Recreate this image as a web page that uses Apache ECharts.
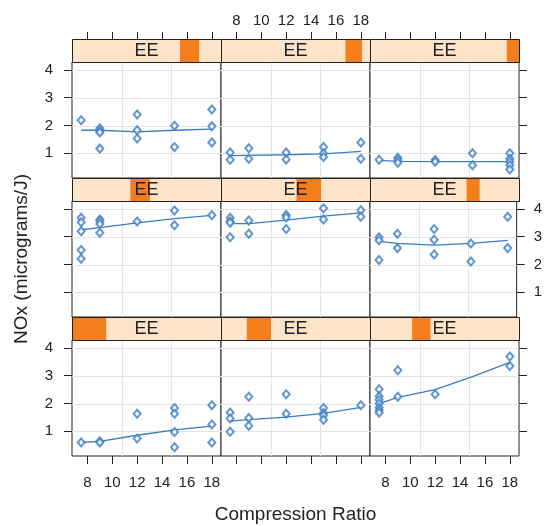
<!DOCTYPE html>
<html>
<head>
<meta charset="utf-8">
<script src="https://cdn.jsdelivr.net/npm/echarts@6/dist/echarts.min.js"></script>
<style>
  html, body { margin: 0; background: #fff; }
  #chart { width: 545px; height: 526px; }
</style>
</head>
<body>
<div id="chart"></div>
<script>
// axis ranges and ticks
const cRange = [6.765, 18.735];
const noxRange = [0.114, 4.284];
const eRange = [0.535, 1.232];
const cTicks = [8, 10, 12, 14, 16, 18];
const noxTicks = [1, 2, 3, 4];
const vGrid = [10.755, 14.745];
const stripLabel = 'EE';

// shingle intervals of E, panel 1 = bottom left (lattice order)
const shingles = [
  [0.535, 0.695], [0.656, 0.769], [0.732, 0.818],
  [0.808, 0.900], [0.888, 1.003], [0.987, 1.048],
  [1.040, 1.130], [1.117, 1.194], [1.175, 1.232]
];

// points [C, NOx] per panel
const pts1 = [[7.5,0.60],[9,0.64],[9,0.60],[12,1.63],[12,0.74],[15,1.84],[15,1.63],[15,0.98],[15,0.43],[18,1.94],[18,1.25],[18,0.60]];
const pts2 = [[7.5,1.68],[7.5,1.46],[7.5,0.99],[9,2.24],[9,1.48],[9,1.20],[12,2.33],[12,1.63],[15,1.84],[15,1.66],[15,1.57],[15,1.42],[18,1.94]];
const pts3 = [[7.5,2.51],[7.5,2.26],[7.5,2.14],[7.5,2.00],[7.5,1.86],[7.5,1.76],[7.5,1.67],[9,3.20],[9,2.24],[12,2.33],[18,3.69],[18,3.35]];
const pts4 = [[7.5,3.68],[7.5,3.52],[7.5,3.20],[7.5,2.52],[7.5,2.21],[9,3.62],[9,3.56],[9,3.46],[9,3.14],[12,3.55],[15,3.94],[15,3.41],[18,3.77]];
const pts5 = [[7.5,3.68],[7.5,3.55],[7.5,3.50],[7.5,2.98],[9,3.58],[9,3.11],[12,3.78],[12,3.69],[12,3.28],[15,4.02],[15,3.62],[18,3.95],[18,3.72]];
const pts6 = [[7.5,2.98],[7.5,2.87],[7.5,2.16],[9,3.11],[9,2.59],[12,3.28],[12,2.89],[12,2.36],[15,2.76],[15,2.11],[18,3.72],[18,2.59]];
const pts7 = [[7.5,2.19],[9,1.90],[9,1.80],[9,1.75],[9,1.17],[12,2.40],[12,1.83],[12,1.53],[15,1.99],[15,1.23],[18,2.58],[18,1.97],[18,1.39]];
const pts8 = [[7.5,1.03],[7.5,0.77],[9,1.18],[9,0.81],[12,1.03],[12,0.78],[15,1.23],[15,1.00],[15,0.87],[18,1.39],[18,0.81]];
const pts9 = [[7.5,0.77],[9,0.84],[9,0.76],[9,0.66],[12,0.76],[12,0.70],[15,1.00],[15,0.57],[18,1.00],[18,0.81],[18,0.70],[18,0.57],[18,0.42]];

// smooth curves
const fit1 = [[7.5,0.60],[9,0.64],[12,0.86],[15,1.05],[18,1.19]];
const fit2 = [[7.5,1.37],[9,1.42],[12,1.51],[15,1.65],[18,1.86]];
const fit3 = [[7.5,2.00],[9,2.22],[12,2.50],[15,2.97],[18,3.48]];
const fit4 = [[7.5,3.25],[9,3.33],[12,3.50],[15,3.65],[18,3.77]];
const fit5 = [[7.5,3.47],[9,3.47],[12,3.60],[15,3.74],[18,3.86]];
const fit6 = [[7.5,2.83],[9,2.76],[12,2.70],[15,2.76],[18,2.87]];
const fit7 = [[7.5,1.83],[9,1.83],[12,1.77],[15,1.83],[18,1.87]];
const fit8 = [[7.5,0.92],[9,0.93],[12,0.95],[15,0.98],[18,1.07]];
const fit9 = [[7.5,0.75],[9,0.71],[12,0.70],[15,0.70],[18,0.70]];

const points = [pts1, pts2, pts3, pts4, pts5, pts6, pts7, pts8, pts9];
const fits = [fit1, fit2, fit3, fit4, fit5, fit6, fit7, fit8, fit9];

// layout
const colLeft = [72, 221, 370];
const colW = 149;
const stripTop = [39, 178, 317];
const stripH = 23;
const plotH = 116;
const font = "'Liberation Sans', Arial, sans-serif";
const ink = '#222';
const blue = '#3a7cc4';

const grids = [], xAxes = [], yAxes = [], series = [];

const tickStyle = (len, values) => ({
  show: true, inside: false, length: len, customValues: values,
  lineStyle: { color: ink, width: 1 }
});
const labelStyle = (show, margin, values) => ({
  show, margin, customValues: values, fontSize: 15, color: ink, fontFamily: font
});

// grid line items: [0, v] vertical at C = v, [1, v] horizontal at NOx = v
const gridItems = vGrid.map(v => [0, v]).concat(noxTicks.map(v => [1, v]));

points.forEach((pts, i) => {
  const r = 2 - Math.floor(i / 3);
  const c = i % 3;
  grids.push({
    left: colLeft[c], top: stripTop[r] + stripH, width: colW, height: plotH,
    show: true, borderColor: ink, borderWidth: 1, backgroundColor: '#fff'
  });
  // bottom x axis
  xAxes.push({
    type: 'value', gridIndex: i, position: 'bottom', min: cRange[0], max: cRange[1],
    show: r === 2,
    axisLine: { show: false },
    axisTick: tickStyle(8, cTicks),
    axisLabel: labelStyle(c !== 1, 19, cTicks),
    splitLine: { show: false },
    name: r === 2 && c === 1 ? 'Compression Ratio' : '',
    nameLocation: 'middle', nameGap: 49,
    nameTextStyle: { fontSize: 19, color: ink, fontFamily: font }
  });
  // top x axis, drawn above the strip
  xAxes.push({
    type: 'value', gridIndex: i, position: 'top', offset: stripH, min: cRange[0], max: cRange[1],
    show: r === 0,
    axisLine: { show: false },
    axisTick: tickStyle(7, cTicks),
    axisLabel: labelStyle(c === 1, 11, cTicks),
    splitLine: { show: false }
  });
  // left y axis
  yAxes.push({
    type: 'value', gridIndex: i, position: 'left', min: noxRange[0], max: noxRange[1],
    show: c === 0,
    axisLine: { show: false },
    axisTick: tickStyle(8, noxTicks),
    axisLabel: labelStyle(r !== 1, 19, noxTicks),
    splitLine: { show: false },
    name: r === 1 && c === 0 ? 'NOx (micrograms/J)' : '',
    nameLocation: 'middle', nameGap: 41,
    nameTextStyle: { fontSize: 19, color: ink, fontFamily: font }
  });
  // right y axis
  yAxes.push({
    type: 'value', gridIndex: i, position: 'right', min: noxRange[0], max: noxRange[1],
    show: c === 2,
    axisLine: { show: false },
    axisTick: tickStyle(8, noxTicks),
    axisLabel: labelStyle(r === 1, 17, noxTicks),
    splitLine: { show: false }
  });

  // light reference lines behind the data
  series.push({
    type: 'custom', xAxisIndex: 2 * i, yAxisIndex: 2 * i, data: gridItems, z: 0, silent: true,
    renderItem(params, api) {
      const cs = params.coordSys;
      const v = api.value(1);
      let shape;
      if (api.value(0) === 0) {
        const x = Math.round(api.coord([v, noxRange[0]])[0]) + 0.5;
        shape = { x1: x, y1: cs.y, x2: x, y2: cs.y + cs.height };
      } else {
        const y = Math.round(api.coord([cRange[0], v])[1]) + 0.5;
        shape = { x1: cs.x, y1: y, x2: cs.x + cs.width, y2: y };
      }
      return { type: 'line', shape, style: { stroke: '#e4e4e4', lineWidth: 1 } };
    }
  });
  // smooth line
  series.push({
    type: 'line', xAxisIndex: 2 * i, yAxisIndex: 2 * i, data: fits[i], z: 2,
    symbol: 'none', lineStyle: { color: blue, width: 1.3 }, silent: true
  });
  // points
  series.push({
    type: 'scatter', xAxisIndex: 2 * i, yAxisIndex: 2 * i, data: pts, z: 3,
    symbol: 'emptyDiamond', symbolSize: [7, 8],
    itemStyle: { color: blue, borderColor: blue, borderWidth: 1 }, silent: true
  });
});

// strips
shingles.forEach((s, i) => {
  const r = 2 - Math.floor(i / 3);
  const c = i % 3;
  const g = 9 + i;
  grids.push({ left: colLeft[c], top: stripTop[r], width: colW, height: stripH, show: false });
  xAxes.push({ type: 'value', gridIndex: g, min: eRange[0], max: eRange[1], show: false });
  yAxes.push({ type: 'value', gridIndex: g, min: 0, max: 1, show: false });
  series.push({
    type: 'custom', xAxisIndex: 18 + i, yAxisIndex: 18 + i, data: [s], silent: true,
    renderItem(params, api) {
      const cs = params.coordSys;
      const lo = api.coord([api.value(0), 0]);
      const hi = api.coord([api.value(1), 1]);
      return {
        type: 'group',
        children: [
          { type: 'rect', shape: { x: cs.x, y: cs.y, width: cs.width, height: cs.height },
            style: { fill: '#fde3c8' } },
          { type: 'rect', shape: { x: lo[0], y: cs.y, width: hi[0] - lo[0], height: cs.height },
            style: { fill: '#f47e1c' } },
          { type: 'rect', shape: { x: cs.x + 0.5, y: cs.y + 0.5, width: cs.width, height: cs.height },
            style: { fill: 'none', stroke: ink, lineWidth: 1 } },
          { type: 'text', style: { text: stripLabel, x: cs.x + cs.width / 2, y: cs.y + cs.height / 2 + 1,
            align: 'center', verticalAlign: 'middle', fontSize: 18, fontFamily: font, fill: ink } }
        ]
      };
    }
  });
});

const chart = echarts.init(document.getElementById('chart'));
chart.setOption({
  animation: false,
  backgroundColor: '#fff',
  grid: grids,
  xAxis: xAxes,
  yAxis: yAxes,
  series: series
});
</script>
</body>
</html>
